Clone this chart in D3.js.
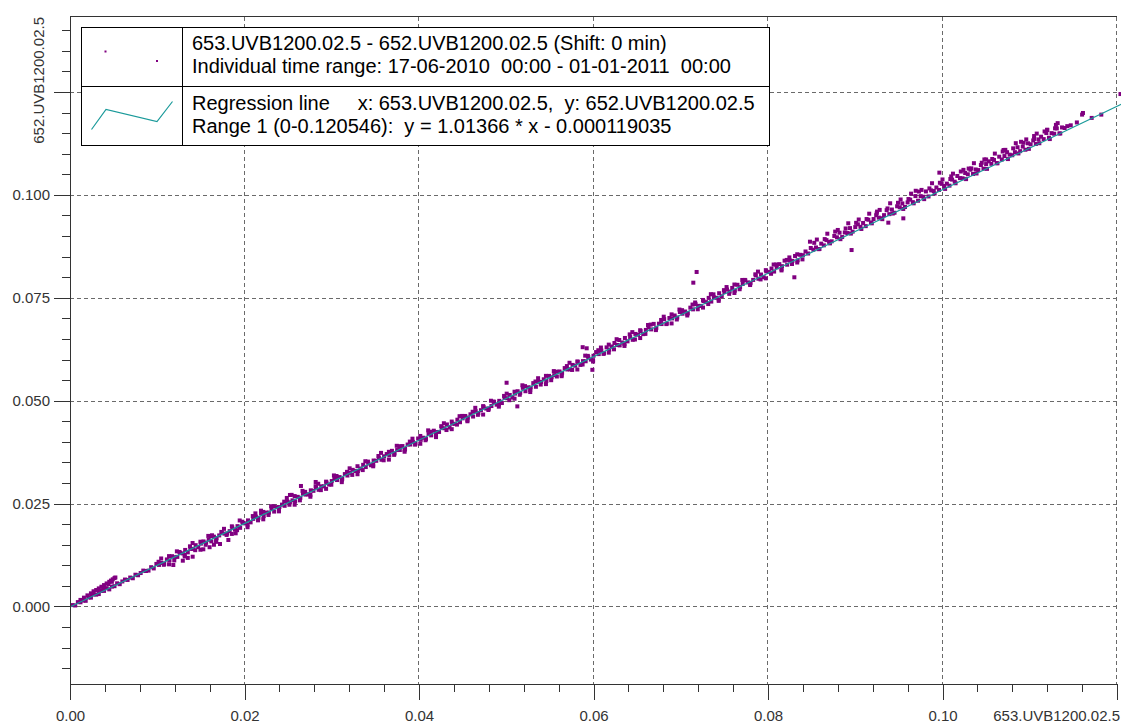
<!DOCTYPE html>
<html><head><meta charset="utf-8">
<script src="https://cdn.jsdelivr.net/npm/d3@7"></script>
<style>html,body{margin:0;padding:0;background:#fff;} svg{display:block;}</style>
</head><body>
<svg id="chart" width="1121" height="723"></svg>
<script>
// All scatter values are in units of 1e-5 (x = 653.UVB1200.02.5, y = 652.UVB1200.02.5)
const UNIT = 1e-5;
const bandPoints = [
[30,34],[60,25],[90,107],[120,102],[150,144],[180,138],[210,221],[240,215],[270,294],[300,288],
[330,302],[360,377],[390,379],[420,446],[450,416],[480,483],[510,493],[540,563],[570,542],[600,608],
[630,655],[660,645],[690,703],[720,686],[750,772],[780,759],[810,813],[840,872],[870,862],[900,872],
[930,955],[960,925],[990,1034],[1020,1010],[1050,1058],[1080,1035],[1110,1143],[1140,1120],[1170,1222],[1200,1198],
[1230,1205],[1260,1301],[1290,1290],[1320,1374],[1350,1315],[1380,1399],[1410,1399],[1440,1490],[1470,1442],[1500,1527],
[1530,1581],[1560,1551],[1590,1624],[1620,1582],[1650,1697],[1680,1661],[1710,1727],[1740,1800],[1770,1770],[1800,1771],
[1830,1831],[1860,1921],[1890,1868],[1920,1952],[1950,1911],[1980,2025],[2010,2020],[2040,2092],[2070,2044],[2100,2129],
[2130,2183],[2160,2154],[2190,2262],[2220,2196],[2250,2281],[2280,2281],[2310,2378],[2340,2306],[2370,2414],[2400,2415],
[2430,2475],[2460,2446],[2490,2554],[2520,2530],[2550,2579],[2580,2555],[2610,2664],[2640,2640],[2670,2743],[2700,2719],
[2730,2725],[2760,2822],[2790,2810],[2820,2895],[2850,2835],[2880,2919],[2910,2920],[2940,3010],[2970,2963],[3000,3047],
[3030,3101],[3060,3072],[3090,3144],[3120,3103],[3150,3217],[3180,3182],[3210,3248],[3240,3320],[3270,3291],[3300,3291],
[3330,3352],[3360,3442],[3390,3388],[3420,3473],[3450,3431],[3480,3546],[3510,3540],[3540,3612],[3570,3565],[3600,3649],
[3630,3704],[3660,3674],[3690,3782],[3720,3717],[3750,3801],[3780,3802],[3810,3898],[3840,3827],[3870,3935],[3900,3935],
[3930,4000],[3960,3960],[3990,4082],[4020,4049],[4050,4100],[4080,4068],[4110,4189],[4140,4157],[4170,4271],[4200,4238],
[4230,4241],[4260,4348],[4290,4330],[4320,4423],[4350,4349],[4380,4442],[4410,4437],[4440,4538],[4470,4477],[4500,4571],
[4530,4629],[4560,4589],[4590,4669],[4620,4615],[4650,4744],[4680,4697],[4710,4769],[4740,4849],[4770,4809],[4800,4805],
[4830,4870],[4860,4970],[4890,4903],[4920,4996],[4950,4943],[4980,5071],[5010,5060],[5040,5139],[5070,5078],[5100,5172],
[5130,5230],[5160,5191],[5190,5312],[5220,5230],[5250,5324],[5280,5319],[5310,5427],[5340,5338],[5370,5459],[5400,5455],
[5430,5520],[5460,5481],[5490,5602],[5520,5569],[5550,5621],[5580,5588],[5610,5710],[5640,5677],[5670,5792],[5700,5759],
[5730,5761],[5760,5869],[5790,5850],[5820,5944],[5850,5869],[5880,5962],[5910,5958],[5940,6058],[5970,5998],[6000,6091],
[6030,6181],[6060,6132],[6090,6218],[6120,6153],[6150,6295],[6180,6238],[6210,6316],[6240,6402],[6270,6353],[6300,6343],
[6330,6414],[6360,6524],[6390,6442],[6420,6545],[6450,6479],[6480,6622],[6510,6604],[6540,6690],[6570,6617],[6600,6719],
[6630,6782],[6660,6732],[6690,6866],[6720,6769],[6750,6871],[6780,6862],[6810,6980],[6840,6875],[6870,7009],[6900,6999],
[6930,7070],[6960,7020],[6990,7155],[7020,7113],[7050,7167],[7080,7126],[7110,7260],[7140,7219],[7170,7345],[7200,7303],
[7230,7302],[7260,7420],[7290,7395],[7320,7497],[7350,7408],[7380,7510],[7410,7500],[7440,7611],[7470,7537],[7500,7640],
[7530,7702],[7560,7652],[7590,7739],[7620,7673],[7650,7816],[7680,7758],[7710,7836],[7740,7923],[7770,7873],[7800,7864],
[7830,7934],[7860,8044],[7890,7963],[7920,8065],[7950,8000],[7980,8142],[8010,8125],[8040,8211],[8070,8137],[8100,8240],
[8130,8317],[8160,8268],[8190,8402],[8220,8304],[8250,8407],[8280,8397],[8310,8516],[8340,8410],[8370,8544],[8400,8535],
[8430,8625],[8460,8576],[8490,8710],[8520,8668],[8550,8723],[8580,8681],[8610,8816],[8640,8774],[8670,8901],[8700,8859],
[8730,8872],[8760,9002],[8790,8969],[8820,9081],[8850,8976],[8880,9087],[8910,9073],[8940,9193],[8970,9107],[9000,9218],
[9030,9284],[9060,9225],[9090,9318],[9120,9241],[9150,9397],[9180,9329],[9210,9413],[9240,9506],[9270,9447],[9300,9432],
[9330,9508],[9360,9628],[9390,9532],[9420,9644],[9450,9566],[9480,9723],[9510,9699],[9540,9792],[9570,9706],[9600,9817],
[9630,9884],[9660,9824],[9690,9971],[9720,9858],[9750,9969],[9780,9955],[9810,10084],[9840,9962],[9870,10109],[9900,10094],
[9930,10180],[9960,10120],[9990,10268],[10020,10217],[10050,10274],[10080,10224],[10110,10371],[10140,10321],[10170,10459],[10200,10408],
[10230,10403],[10260,10532],[10290,10500],[10320,10611],[10350,10507],[10380,10618],[10410,10603],[10440,10724],[10470,10637],[10500,10749],
[10530,10815],[10560,10755],[10590,10849],[10620,10771],[10650,10928],[10680,10859],[10710,10943],[10740,11037],[10770,10977],[10800,10963],
[10830,11038],[10860,11158],[10890,11063],[10920,11174],[10950,11097],[10980,11253],[11010,11230],[11040,11323],[11070,11236],[11100,11348],
[11130,11414],[11160,11355],[11190,11502],[11220,11388],[11250,11500],[11280,11485],[11310,11615],[11340,11492],[11370,11639],[11400,11625],
[11430,11670],[11470,11690],[11540,11760],[11610,11990],[11600,11950],[11710,11870],[11820,11950],[12040,12450]
];
const bandEdgePoints = [
[1015,1087],[1075,1013],[1135,1224],[1195,1119],[1255,1325],[1315,1251],[1375,1462],[1435,1368],[1495,1574],[1555,1499],
[1615,1710],[1675,1606],[1735,1812],[1795,1738],[1855,1948],[1915,1854],[1975,2060],[2035,1986],[2095,2197],[2155,2093],
[2215,2298],[2275,2224],[2335,2435],[2395,2341],[2455,2547],[2515,2472],[2575,2683],[2635,2579],[2695,2785],[2755,2711],
[2815,2922],[2875,2827],[2935,3033],[2995,2959],[3055,3170],[3115,3066],[3175,3271],[3235,3197],[3295,3408],[3355,3314],
[3415,3520],[3475,3446],[3535,3656],[3595,3552],[3655,3758],[3715,3684],[3775,3895],[3835,3800],[3895,4006],[3955,3932],
[4015,4143],[4075,4039],[4135,4245],[4195,4170],[4255,4381],[4315,4287],[4375,4493],[4435,4419],[4495,4630],[4555,4525],
[4615,4731],[4675,4657],[4735,4868],[4795,4774],[4855,4979],[4915,4905],[4975,5116],[5035,5012],[5095,5218],[5155,5144],
[5215,5354],[5275,5260],[5335,5466],[5395,5392],[5455,5603],[5515,5498],[5575,5704],[5635,5630],[5695,5841],[5755,5747],
[5815,5953],[5875,5879],[5935,6089],[5995,5985],[6055,6226],[6115,6137],[6175,6362],[6235,6248],[6295,6474],[6355,6375],
[6415,6611],[6475,6487],[6535,6712],[6595,6623],[6655,6849],[6715,6735],[6775,6961],[6835,6861],[6895,7097],[6955,6973],
[7015,7199],[7075,7110],[7135,7336],[7195,7221],[7255,7447],[7315,7348],[7375,7584],[7435,7460],[7495,7686],[7555,7596],
[7615,7822],[7675,7708],[7735,7934],[7795,7835],[7855,8070],[7915,7946],[7975,8172],[8035,8083],[8095,8309],[8155,8195],
[8215,8420],[8275,8321],[8335,8557],[8395,8433],
[8530,8835],[8590,8685],[8650,8926],[8710,8822],[8770,9108],[8830,8924],[8890,9184],[8950,9060],[9010,9321],[9070,9172],
[9130,9413],[9190,9309],[9250,9594],[9310,9410],[9370,9671],[9430,9547],[9490,9808],[9550,9658],[9610,9899],[9670,9795],
[9730,10081],[9790,9897],[9850,10158],[9910,10033],[9970,10294],[10030,10145],[10090,10386],[10150,10282],[10210,10568],[10270,10383],
[10330,10644],[10390,10520],[10450,10781],[10510,10632],[10570,10872],[10630,10768],[10690,11054],[10750,10870],[10810,11131],[10870,11007],
[10930,11267],[10990,11118],[11050,11359],[11110,11255],[11170,11541],[11230,11356],[11290,11617],[11350,11493]
];
const bandOuterPoints = [
[1045,1167],[1135,1024],[1225,1340],[1315,1216],[1405,1542],[1495,1379],[1585,1715],[1675,1571],[1765,1887],[1855,1763],
[1945,2090],[2035,1926],[2125,2262],[2215,2118],[2305,2435],[2395,2311],[2485,2637],[2575,2473],[2665,2809],[2755,2666],
[2845,2982],[2935,2858],[3025,3184],[3115,3021],[3205,3357],[3295,3213],[3385,3529],[3475,3406],[3565,3732],[3655,3568],
[3745,3904],[3835,3760],[3925,4077],[4015,3953],[4105,4279],[4195,4115],[4285,4452],[4375,4308],[4465,4624],[4555,4500],
[4645,4827],[4735,4663],[4825,4999],[4915,4855],[5005,5171],[5095,5048],[5185,5374],[5275,5210],[5365,5546],[5455,5403],
[5545,5719],[5635,5595],[5725,5921],[5815,5758],[5905,6094],[5995,5950],[6085,6291],[6175,6167],[6265,6494],[6355,6330],
[6445,6666],[6535,6522],[6625,6839],[6715,6715],[6805,7041],[6895,6877],[6985,7214],[7075,7070],[7165,7386],[7255,7262],
[7345,7588],[7435,7425],[7525,7761],[7615,7617],[7705,7933],[7795,7810],[7885,8136],[7975,7972],[8065,8308],[8155,8165],
[8245,8481],[8335,8357],
[8560,8915],[8680,9057],[8800,9148],[8920,9310],[9040,9402],[9160,9543],[9280,9635],[9400,9796],[9520,9888],[9640,10030],
[9760,10121],[9880,10283],[10000,10375],[10120,10516],[10240,10608],[10360,10770],[10480,10861],[10600,11003],[10720,11094],[10840,11256],
[10960,11348],[11080,11489],[11200,11581],[11320,11743]
];
const lobePoints = [
[120,160],[160,215],[200,270],[240,320],[250,300],[270,370],[300,400],[320,400],[330,440],[360,480],
[380,470],[390,520],[420,560],[440,545],[450,600],[470,630],[480,600],[490,660],[510,690],[520,705]
];
const outlierPoints = [
[1184,1008],[1293,1113],[1350,1180],[1406,1210],[1528,1390],[1600,1440],[1650,1500],[1719,1518],[1815,1616],[1899,1778],
[1628,1730],[2189,2328],[2521,2709],[2540,2712],[2647,2928],[2816,3025],
[5004,5436],[5127,4862],[5876,6300],[5922,6273],[5987,5750],[7144,7867],[7182,8127],[8302,7998],[8481,8863],[8958,8660],
[9246,9553],[9379,9325],[9551,9430],[9693,10100],[9964,10540],[10100,10450],[10300,10640],[10500,10860],[10700,11090],
[10900,11290],[11050,11430],[11200,11580],[11300,11700]
];
const xTickValues = [0, 0.02, 0.04, 0.06, 0.08, 0.10, 0.12];
const xTickLabels = ["0.00", "0.02", "0.04", "0.06", "0.08", "0.10", ""];
const yTickValues = [0, 0.025, 0.05, 0.075, 0.1, 0.125];
const yTickLabels = ["0.000", "0.025", "0.050", "0.075", "0.100", ""];
const xTitle = "653.UVB1200.02.5";
const yTitle = "652.UVB1200.02.5";
const regression = { slope: 1.01366, intercept: -0.000119035, range: [0, 0.120546] };
const legendLines = [
  "653.UVB1200.02.5 - 652.UVB1200.02.5 (Shift: 0 min)",
  "Individual time range: 17-06-2010  00:00 - 01-01-2011  00:00",
  "Regression line     x: 653.UVB1200.02.5,  y: 652.UVB1200.02.5",
  "Range 1 (0-0.120546):  y = 1.01366 * x - 0.000119035"
];

(function () {
const FONT = "'Liberation Sans', Arial, Helvetica, sans-serif";
const AXIS_COLOR = "#333";
const svg = d3.select("#chart");
const pL = 70, pR = 1117, pT = 16.7, pB = 684;
const x = d3.scaleLinear().domain([0, 0.12]).range([pL, pR]);
const y = d3.scaleLinear().domain([-0.01883, 0.14329]).range([pB, pT]);

// grid
const grid = svg.append("g").attr("stroke", "#6a6a6a").attr("stroke-width", 1)
  .attr("stroke-dasharray", "4,3").attr("shape-rendering", "crispEdges");
grid.selectAll("line.h").data(yTickValues).join("line").attr("class", "h")
  .attr("x1", pL).attr("x2", pR).attr("y1", d => Math.round(y(d)) + 0.5).attr("y2", d => Math.round(y(d)) + 0.5);
grid.selectAll("line.v").data(xTickValues.filter(d => d > 0)).join("line").attr("class", "v")
  .attr("y1", pT).attr("y2", pB).attr("x1", d => Math.round(x(d)) - 0.5).attr("x2", d => Math.round(x(d)) - 0.5);

// points
const all = bandPoints.concat(bandEdgePoints, bandOuterPoints, lobePoints, outlierPoints);
const ms = 4;
svg.append("g").attr("fill", "#800080").selectAll("rect").data(all).join("rect")
  .attr("x", d => x(d[0] * UNIT) - ms / 2).attr("y", d => y(d[1] * UNIT) - ms / 2)
  .attr("width", ms).attr("height", ms);

// regression line
const regPts = regression.range.map(v => [v, regression.slope * v + regression.intercept]);
svg.append("path").datum(regPts).attr("fill", "none").attr("stroke", "#1a9a9a").attr("stroke-width", 1.2)
  .attr("d", d3.line().x(d => x(d[0])).y(d => y(d[1])));

// axes
function styleAxis(g) {
  g.selectAll("path,line").attr("stroke", AXIS_COLOR).attr("shape-rendering", "crispEdges");
  g.selectAll("text").attr("fill", AXIS_COLOR).style("font-family", FONT).style("font-size", "15px");
}
const yMinor = d3.range(-0.015, 0.1405, 0.005);
svg.append("g").attr("transform", `translate(${pL},0)`)
  .call(d3.axisLeft(y).tickValues(yMinor).tickSize(8).tickFormat("").tickSizeOuter(0)).call(styleAxis)
  .select(".domain").remove();
svg.append("g").attr("transform", `translate(${pL},0)`)
  .call(d3.axisLeft(y).tickValues(yTickValues).tickSize(16).tickPadding(4)
    .tickFormat((d, i) => yTickLabels[i]).tickSizeOuter(0)).call(styleAxis);
const xMinor = d3.range(0, 0.1201, 0.004);
svg.append("g").attr("transform", `translate(0,${pB})`)
  .call(d3.axisBottom(x).tickValues(xMinor).tickSize(8).tickFormat("").tickSizeOuter(0)).call(styleAxis)
  .select(".domain").remove();
svg.append("g").attr("transform", `translate(0,${pB})`)
  .call(d3.axisBottom(x).tickValues(xTickValues).tickSize(16).tickPadding(10)
    .tickFormat((d, i) => xTickLabels[i]).tickSizeOuter(0)).call(styleAxis);
// top frame
svg.append("line").attr("x1", pL).attr("x2", pR).attr("y1", pT).attr("y2", pT)
  .attr("stroke", AXIS_COLOR).attr("shape-rendering", "crispEdges");

// axis titles
svg.append("text").attr("x", 1120).attr("y", 721).attr("text-anchor", "end")
  .attr("fill", AXIS_COLOR).style("font-family", FONT).style("font-size", "15px").text(xTitle);
svg.append("text").attr("transform", "translate(44,17) rotate(-90)").attr("text-anchor", "end")
  .attr("fill", AXIS_COLOR).style("font-family", FONT).style("font-size", "15px").text(yTitle);

// legend
const lg = svg.append("g");
lg.append("rect").attr("x", 81.5).attr("y", 27.5).attr("width", 688).attr("height", 118)
  .attr("fill", "#fff").attr("stroke", "#000");
lg.append("line").attr("x1", 182.5).attr("x2", 182.5).attr("y1", 27.5).attr("y2", 145.5).attr("stroke", "#000");
lg.append("line").attr("x1", 81.5).attr("x2", 769.5).attr("y1", 86.5).attr("y2", 86.5).attr("stroke", "#000");
lg.append("rect").attr("x", 104.5).attr("y", 50.5).attr("width", 2).attr("height", 2).attr("fill", "#800080");
lg.append("rect").attr("x", 156).attr("y", 60).attr("width", 2).attr("height", 2).attr("fill", "#800080");
lg.append("path").attr("d", "M91.5,129.5L106,109.5L157,121.5L172.5,101.5").attr("fill", "none")
  .attr("stroke", "#1a9a9a").attr("stroke-width", 1.2);
const legendY = [50, 73, 110, 133];
lg.selectAll("text").data(legendLines).join("text")
  .attr("x", 192).attr("y", (d, i) => legendY[i])
  .attr("fill", "#000").style("font-family", FONT).style("font-size", "20px").style("white-space", "pre")
  .text(d => d);
})();
</script>
</body></html>
